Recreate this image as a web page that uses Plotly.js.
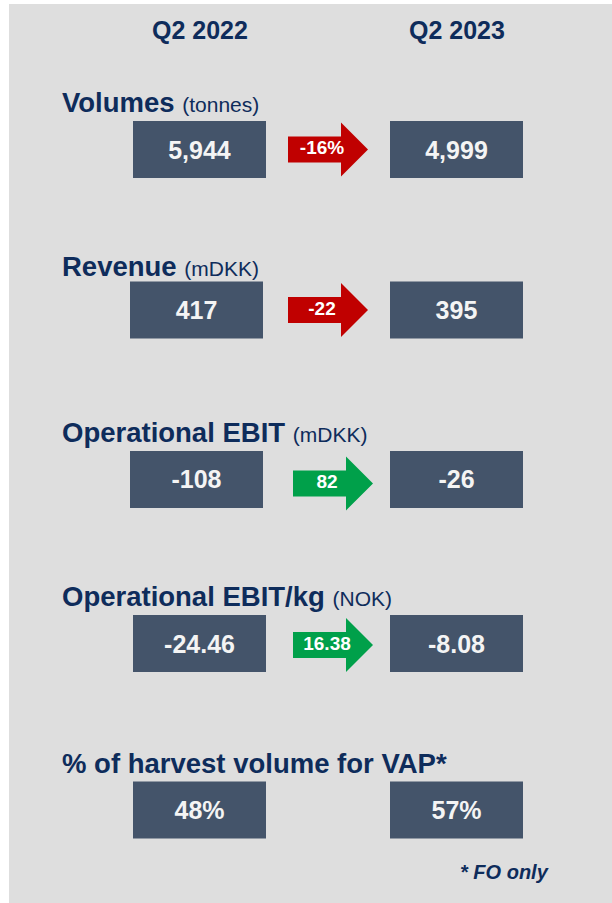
<!DOCTYPE html>
<html>
<head>
<meta charset="utf-8">
<script src="https://cdn.plot.ly/plotly-3.0.1.min.js"></script>
<style>html,body{margin:0;padding:0;background:#fff;}#chart{width:612px;height:903px;}</style>
</head>
<body>
<div id="chart"></div>
<script>
// ---------- DATA ----------
const metrics = ['Volumes', 'Revenue', 'Operational EBIT', 'Operational EBIT/kg', '% of harvest volume for VAP*'];
const metricUnits = ['(tonnes)', '(mDKK)', '(mDKK)', '(NOK)', ''];
const periods = ['Q2 2022', 'Q2 2023'];
const q2_2022 = [5944, 417, -108, -24.46, 48];
const q2_2023 = [4999, 395, -26, -8.08, 57];
const changeValues = [-16, -22, 82, 16.38, null];
const valueFormats = ['int', 'int', 'int', 'dec2', 'pct'];
const changeFormats = ['pct', 'int', 'int', 'dec2', null];
const footnote = '* FO only';

// ---------- LAYOUT CONSTANTS (pixel geometry) ----------
const W = 612, H = 903;
const ML = 9, MT = 4;
const COL0_PX = 199.5, UNIT_X = 257;          // px per column unit
const ROW0_PX = 149.5, UNIT_Y = 165.125;      // px per row unit
const rowPos = [0, 0.972, 1.998, 2.992, 4.0];
const leftShiftPx = [0, -3, -3, 0, 0];
const arrowCenterPx = [328, 328, 333, 333];
const arrowYShiftPx = [0, 0, 4, 1.5];
const labelYShiftPx = [1, -2, 1, 1, 1];
const BOX_W_PX = 133, BOX_H_PX = 57;
const ARROW_L = 80, HEAD_L = 27, BODY_HH = 13, HEAD_HH = 27;

const FONT = 'Liberation Sans, Arial, Helvetica, sans-serif';
const NAVY = '#0e2c5b';
const BOX = '#44546a';
const RED = '#c00000';
const GREEN = '#00a04a';
const BG = '#dedede';

const px2x = p => (p - COL0_PX) / UNIT_X;
const px2y = p => (p - ROW0_PX) / UNIT_Y;
const dx = p => p / UNIT_X;
const dy = p => p / UNIT_Y;

function fmt(v, f) {
  if (f === 'int') return v.toLocaleString('en-US');
  if (f === 'dec2') return v.toFixed(2);
  if (f === 'pct') return v + '%';
  return String(v);
}

const boxW = dx(BOX_W_PX), boxH = dy(BOX_H_PX);

const traces = [];
function boxTrace(xs, vals) {
  return {
    type: 'bar',
    x: xs,
    base: rowPos.map(r => r - boxH / 2),
    y: rowPos.map(() => boxH),
    width: rowPos.map(() => boxW),
    marker: {color: BOX, line: {width: 0}},
    text: vals.map((v, i) => fmt(v, valueFormats[i])),
    textposition: 'inside',
    insidetextanchor: 'middle',
    textangle: 0,
    constraintext: 'none',
    textfont: {family: FONT, size: 25, color: '#f4f4f4', weight: 'bold'},
    hoverinfo: 'skip'
  };
}
traces.push(boxTrace(rowPos.map((r, i) => 0 + dx(leftShiftPx[i])), q2_2022));
traces.push(boxTrace(rowPos.map(() => 1), q2_2023));

// arrows
changeValues.forEach((c, i) => {
  if (c === null) return;
  const color = c < 0 ? RED : GREEN;
  const cx = px2x(arrowCenterPx[i]);
  const cy = rowPos[i] + dy(arrowYShiftPx[i]);
  const x0 = cx - dx(ARROW_L / 2), x1 = cx + dx(ARROW_L / 2), xh = x1 - dx(HEAD_L);
  const xs = [x0, xh, xh, x1, xh, xh, x0, x0];
  const ys = [cy - dy(BODY_HH), cy - dy(BODY_HH), cy - dy(HEAD_HH), cy, cy + dy(HEAD_HH), cy + dy(BODY_HH), cy + dy(BODY_HH), cy - dy(BODY_HH)];
  traces.push({
    type: 'scatter', mode: 'lines', x: xs, y: ys, fill: 'toself',
    fillcolor: color, line: {width: 0, color: color}, hoverinfo: 'skip'
  });
  traces.push({
    type: 'scatter', mode: 'text', x: [cx - dx(6)], y: [cy],
    text: [fmt(c, changeFormats[i])], textposition: 'middle center',
    textfont: {family: FONT, size: 19, color: '#ffffff', weight: 'bold'},
    hoverinfo: 'skip'
  });
});

const annotations = [];
periods.forEach((p, j) => {
  annotations.push({
    xref: 'x', yref: 'y', x: j, y: px2y(30), text: '<b>' + p + '</b>',
    showarrow: false, xanchor: 'center', yanchor: 'middle',
    font: {family: FONT, size: 25, color: NAVY}
  });
});
metrics.forEach((m, i) => {
  let t = '<b>' + m + '</b>';
  if (metricUnits[i]) t += ' <span style="font-size:21px">' + metricUnits[i] + '</span>';
  annotations.push({
    xref: 'x', yref: 'y', x: px2x(60), y: rowPos[i] - boxH / 2, yshift: labelYShiftPx[i],
    text: t, showarrow: false, xanchor: 'left', yanchor: 'bottom',
    font: {family: FONT, size: 27.5, color: NAVY}
  });
});
annotations.push({
  xref: 'x', yref: 'y', x: px2x(551), y: px2y(872), text: '<b><i>' + footnote + '</i></b>',
  showarrow: false, xanchor: 'right', yanchor: 'middle',
  font: {family: FONT, size: 20, color: NAVY}
});

const axisCommon = {showgrid: false, zeroline: false, showticklabels: false, showline: false, ticks: '', fixedrange: true};
const layout = {
  width: W, height: H,
  margin: {l: ML, r: 0, t: MT, b: 0, pad: 0},
  paper_bgcolor: '#ffffff',
  plot_bgcolor: BG,
  showlegend: false,
  barmode: 'overlay',
  xaxis: Object.assign({range: [px2x(ML), px2x(W)]}, axisCommon),
  yaxis: Object.assign({range: [px2y(H), px2y(MT)]}, axisCommon),
  annotations: annotations,
  font: {family: FONT}
};

Plotly.newPlot('chart', traces, layout, {displayModeBar: false, staticPlot: true});
</script>
</body>
</html>
